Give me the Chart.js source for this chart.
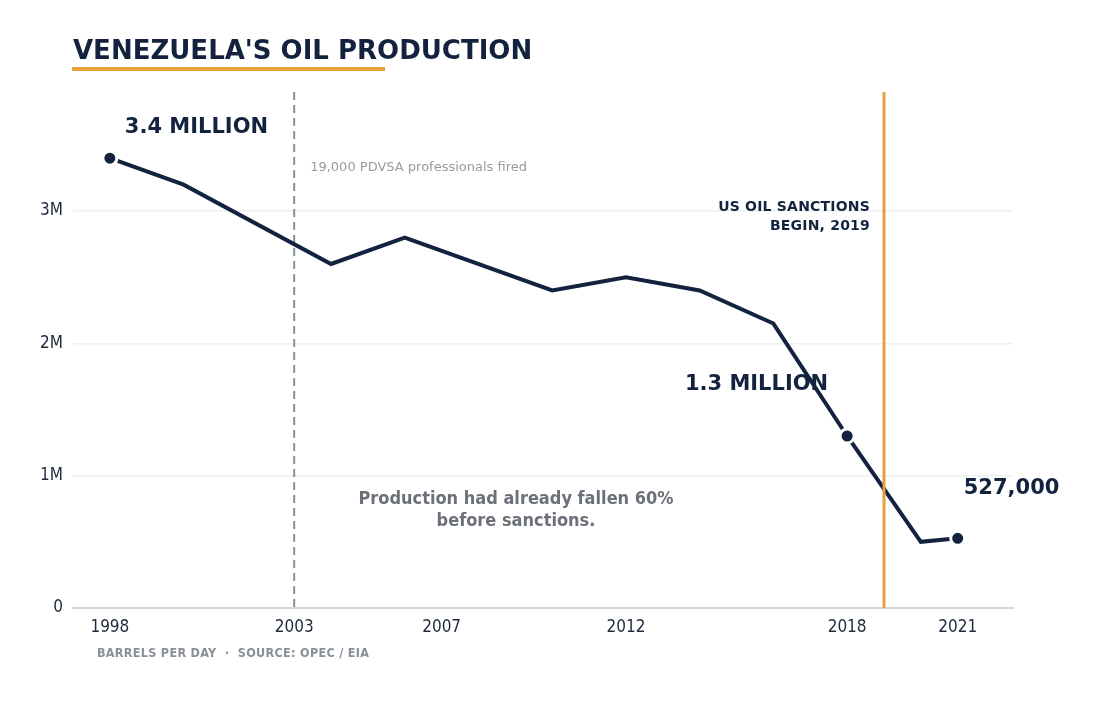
<!DOCTYPE html>
<html>
<head>
<meta charset="utf-8">
<script src="https://cdn.jsdelivr.net/npm/chart.js@4"></script>
<style>
  body { margin: 0; background: #fff; }
  #wrap { width: 1100px; height: 701px; position: relative; }
</style>
</head>
<body>
<div id="wrap"><canvas id="oilChart"></canvas></div>
<script>
// data
var years = [1998, 2000, 2004, 2006, 2010, 2012, 2014, 2016, 2018, 2020, 2021];
var production = [3400000, 3200000, 2600000, 2800000, 2400000, 2500000, 2400000, 2150000, 1300000, 500000, 527000];
var markedYears = [1998, 2018, 2021];
var xTickYears = [1998, 2003, 2007, 2012, 2018, 2021];
var yTickValues = [0, 1000000, 2000000, 3000000];
var yTickLabels = ["0", "1M", "2M", "3M"];
var firedYear = 2003;
var sanctionYear = 2019;

var navy = "#13233f";
var orange = "#e8a03c";
var font = "DejaVu Sans";
var condensed = "DejaVu Sans Condensed, DejaVu Sans";

var points = [];
for (var i = 0; i < years.length; i++) {
  points.push({ x: years[i], y: production[i] });
}
var radii = years.map(function (y) { return markedYears.indexOf(y) >= 0 ? 7 : 0; });

// title, reference lines and notes
var notes = {
  id: "notes",
  beforeDatasetsDraw: function (chart) {
    var ctx = chart.ctx, x = chart.scales.x, area = chart.chartArea;
    ctx.save();
    // 2003 dashed marker
    ctx.strokeStyle = "#8a8f98";
    ctx.lineWidth = 2;
    ctx.setLineDash([8, 5]);
    ctx.beginPath();
    ctx.moveTo(x.getPixelForValue(firedYear), area.top);
    ctx.lineTo(x.getPixelForValue(firedYear), area.bottom);
    ctx.stroke();
    ctx.restore();
  },
  afterDatasetsDraw: function (chart) {
    var ctx = chart.ctx, x = chart.scales.x, area = chart.chartArea;
    ctx.save();
    // sanctions line sits over the series
    ctx.strokeStyle = orange;
    ctx.lineWidth = 3;
    ctx.beginPath();
    ctx.moveTo(x.getPixelForValue(sanctionYear), area.top);
    ctx.lineTo(x.getPixelForValue(sanctionYear), area.bottom);
    ctx.stroke();
    ctx.restore();
  },
  afterDraw: function (chart) {
    var ctx = chart.ctx, x = chart.scales.x, y = chart.scales.y;
    ctx.save();
    ctx.textBaseline = "middle";

    // title + underline
    ctx.fillStyle = navy;
    ctx.font = "bold 26px " + font;
    ctx.textAlign = "left";
    ctx.fillText("VENEZUELA'S OIL PRODUCTION", 73, 52);
    ctx.fillStyle = orange;
    ctx.fillRect(72, 67, 313, 4);

    // big value labels
    ctx.fillStyle = navy;
    ctx.font = "bold 21px " + font;
    ctx.fillText("3.4 MILLION", x.getPixelForValue(1998) + 15, y.getPixelForValue(3400000) - 31);
    ctx.textAlign = "right";
    ctx.fillText("1.3 MILLION", x.getPixelForValue(2018) - 19, y.getPixelForValue(1300000) - 51);
    ctx.textAlign = "left";
    ctx.fillText("527,000", x.getPixelForValue(2021) + 6, y.getPixelForValue(527000) - 50);

    // sanctions note
    ctx.font = "bold 14px " + font;
    ctx.textAlign = "right";
    ctx.letterSpacing = "0.2px";
    var sx = x.getPixelForValue(sanctionYear) - 14;
    ctx.fillText("US OIL SANCTIONS", sx, 207);
    ctx.fillText("BEGIN, 2019", sx, 226);
    ctx.letterSpacing = "0px";

    // fired note
    ctx.textAlign = "left";
    ctx.fillStyle = "#969aa2";
    ctx.font = "13px " + font;
    ctx.fillText("19,000 PDVSA professionals fired", x.getPixelForValue(firedYear) + 16, 168);

    // centre note
    ctx.textAlign = "center";
    ctx.fillStyle = "#6b7079";
    ctx.font = "bold 18px " + condensed;
    ctx.fillText("Production had already fallen 60%", 516, 499);
    ctx.fillText("before sanctions.", 516, 521);

    // footer
    ctx.textAlign = "left";
    ctx.fillStyle = "#8a8f98";
    ctx.font = "bold 12.5px " + condensed;
    ctx.letterSpacing = "0.3px";
    ctx.fillText("BARRELS PER DAY  \u00b7  SOURCE: OPEC / EIA", 97, 654);
    ctx.restore();
  }
};

var chart = new Chart(document.getElementById("oilChart").getContext("2d"), {
  type: "line",
  data: {
    datasets: [{
      data: points,
      borderColor: navy,
      borderWidth: 4,
      tension: 0,
      pointRadius: radii,
      pointHoverRadius: radii,
      pointBackgroundColor: navy,
      pointBorderColor: "#ffffff",
      pointBorderWidth: 3
    }]
  },
  options: {
    responsive: true,
    maintainAspectRatio: false,
    animation: false,
    layout: { padding: { top: 92, right: 87, bottom: 53, left: 0 } },
    plugins: { legend: { display: false }, tooltip: { enabled: false } },
    scales: {
      x: {
        type: "linear",
        min: 1997,
        max: 2022.5,
        afterBuildTicks: function (s) { s.ticks = xTickYears.map(function (v) { return { value: v }; }); },
        afterFit: function (s) { s.height = 40; },
        grid: { display: false, drawTicks: false },
        border: { display: true, color: "#d4d7dc", width: 2 },
        ticks: {
          padding: 9,
          color: "#1f2a3c",
          font: { family: condensed, size: 17 },
          callback: function (v) { return String(v); }
        }
      },
      y: {
        min: 0,
        max: 3900000,
        afterBuildTicks: function (s) { s.ticks = yTickValues.map(function (v) { return { value: v }; }); },
        afterFit: function (s) { s.width = 73; },
        grid: { color: "#eeeff1", lineWidth: 1.5, drawTicks: false },
        border: { display: false },
        ticks: {
          padding: 10,
          color: "#1f2a3c",
          font: { family: condensed, size: 17 },
          callback: function (v) { return yTickLabels[yTickValues.indexOf(v)]; }
        }
      }
    }
  },
  plugins: [notes]
});
</script>
</body>
</html>
